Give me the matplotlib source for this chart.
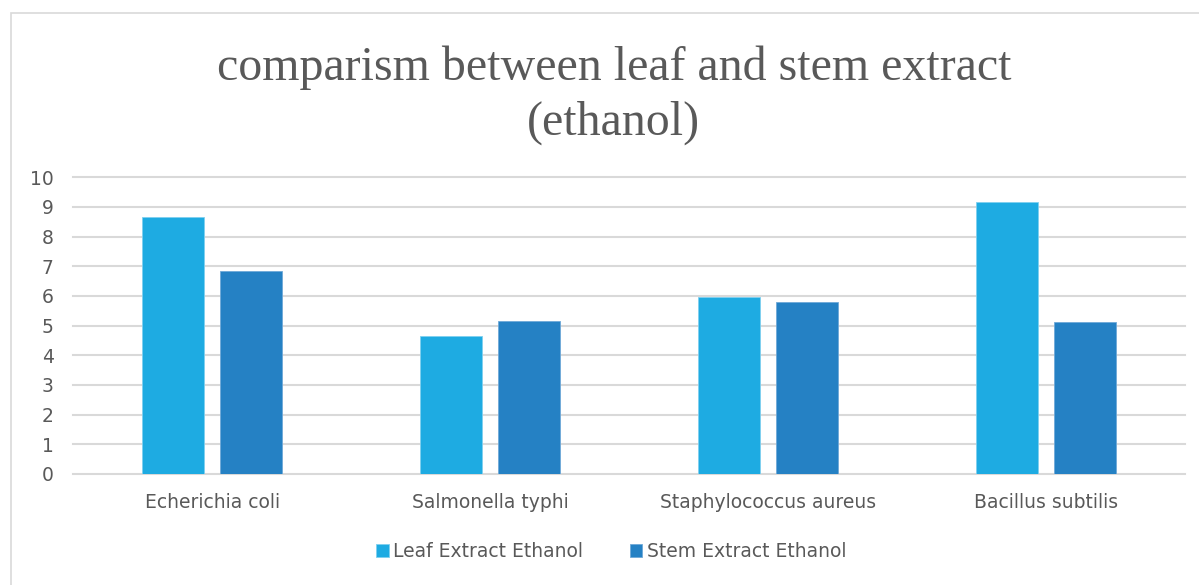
import matplotlib.pyplot as plt
import numpy as np
from matplotlib.patches import Rectangle

# data
categories = ['Echerichia coli', 'Salmonella typhi', 'Staphylococcus aureus', 'Bacillus subtilis']
leaf_ethanol = [8.65, 4.65, 5.96, 9.15]
stem_ethanol = [6.83, 5.15, 5.79, 5.13]
series_names = ['Leaf Extract Ethanol', 'Stem Extract Ethanol']

text_color = '#595959'
grid_color = '#d9d9d9'
leaf_color = '#1eabe2'
stem_color = '#2581c4'

plt.rcParams['font.family'] = ['DejaVu Sans']

fig = plt.figure(figsize=(11.99, 5.85), dpi=100)
ax = fig.add_axes([0.061, 0.19, 0.927, 0.507])

x = np.arange(len(categories))
w = 0.223
gap = 0.058
ax.bar(x - (w + gap) / 2, leaf_ethanol, w, color=leaf_color, label=series_names[0],
       edgecolor='#7fd0ef', linewidth=0.6, zorder=3)
ax.bar(x + (w + gap) / 2, stem_ethanol, w, color=stem_color, label=series_names[1],
       edgecolor='#6fa9d8', linewidth=0.6, zorder=3)

ax.set_xlim(-0.5, len(categories) - 0.5)
ax.set_ylim(0, 10)
ax.set_yticks(range(0, 11))
ax.set_xticks(x)
ax.set_xticklabels(categories)
ax.yaxis.grid(True, color=grid_color, linewidth=1.5, zorder=0)
for gl in ax.get_ygridlines():
    gl.set_clip_on(False)
for s in ax.spines.values():
    s.set_visible(False)
ax.tick_params(axis='both', length=0, labelsize=13.5, labelcolor=text_color)
ax.tick_params(axis='y', pad=14)
ax.tick_params(axis='x', pad=14)

fig.text(0.512, 0.885, 'comparism between leaf and stem extract', ha='center', va='center',
         fontsize=34.5, family='Liberation Serif', color=text_color)
fig.text(0.512, 0.79, '(ethanol)', ha='center', va='center',
         fontsize=34.5, family='Liberation Serif', color=text_color)

leg = fig.legend(loc='center', bbox_to_anchor=(0.51, 0.057), ncol=2, frameon=False,
                 fontsize=13.5, handlelength=0.65, handleheight=0.65, handletextpad=0.25,
                 columnspacing=2.5)
for t in leg.get_texts():
    t.set_color(text_color)

# light frame round the chart area
fig.patches.append(Rectangle((0.009, -0.01), 1.0, 0.988, transform=fig.transFigure,
                             fill=False, edgecolor='#d9d9d9', linewidth=1.2))

fig.savefig('out.png', dpi=100)
